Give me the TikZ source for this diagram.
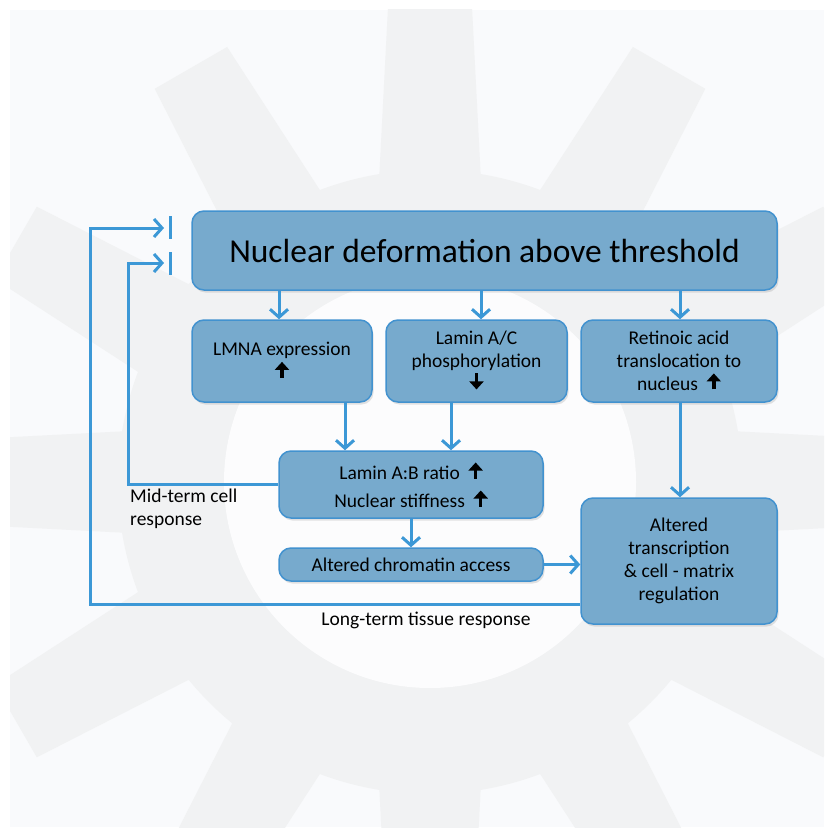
\documentclass[tikz,border=0pt]{standalone}
\usepackage{fontspec}
\setmainfont{Carlito}
\usetikzlibrary{arrows.meta,shadows}
\definecolor{boxfill}{HTML}{77AACD}
\definecolor{boxline}{HTML}{4292CF}
\definecolor{linkc}{HTML}{3C98D6}
\definecolor{gearc}{HTML}{F1F2F3}
\definecolor{bgc}{HTML}{F9FAFC}
\definecolor{holec}{HTML}{FCFCFD}
\newcommand{\upmark}{\tikz[x=1pt,y=1pt,baseline=-1pt]\draw[line width=3.4pt,-{Triangle[length=8pt,width=14pt]}](0,0)--(0,16);}
\newcommand{\downmark}{\tikz[x=1pt,y=1pt,baseline=-1pt]\draw[line width=3.4pt,-{Triangle[length=8pt,width=14pt]}](0,16)--(0,0);}
\begin{document}
\begin{tikzpicture}[x=1pt,y=-1pt,
  box/.style={draw=boxline,line width=1.5pt,fill=boxfill,rounded corners=12pt,align=center,inner sep=0pt,
    font=\fontsize{19.5}{23}\selectfont,drop shadow={opacity=0.22,shadow xshift=1.5pt,shadow yshift=-2.5pt}},
  link/.style={draw=linkc,line width=3pt,-{Straight Barb[length=8pt,width=18pt]}},
  plain/.style={draw=linkc,line width=3pt},
  lbl/.style={font=\fontsize{19.5}{23}\selectfont,inner sep=0pt}]
\useasboundingbox (0,0) rectangle (834,837);
\fill[white] (0,0) rectangle (834,837);
% background gear
\begin{scope}
\clip (10,10) rectangle (824,827);
\fill[bgc] (10,10) rectangle (824,827);
\begin{scope}[shift={(430,482)}]
\fill[gearc] (0,0) circle (312);
\foreach \a in {0,30,...,330}
  \fill[gearc] (\a-9.5:308) -- (\a-5:480) -- (\a+5:480) -- (\a+9.5:308) -- cycle;
\fill[holec] (0,0) circle (206);
\end{scope}
\end{scope}
% boxes
\node[box,minimum width=585pt,minimum height=79pt,font=\fontsize{33.5}{40}\selectfont] (top) at (484.5,250.5) {Nuclear deformation above threshold};
\node[box,minimum width=180pt,minimum height=82pt] (lmna) at (282,361) {LMNA expression\\\upmark};
\node[box,minimum width=181pt,minimum height=82pt] (lac) at (476.5,361) {Lamin A/C\\phosphorylation\\\downmark};
\node[box,minimum width=196pt,minimum height=82pt] (ret) at (679,361) {Retinoic acid\\translocation to\\nucleus \ \upmark};
\node[box,minimum width=264pt,minimum height=67pt] (ab) at (411,484.5) {Lamin A:B ratio \ \upmark\\[5pt]Nuclear stiffness \ \upmark};
\node[box,minimum width=264pt,minimum height=33pt] (chr) at (411,564.5) {Altered chromatin access};
\node[box,minimum width=196pt,minimum height=126pt] (tra) at (679,561) {Altered\\transcription\\\& cell - matrix\\regulation};
% labels
\node[lbl,anchor=north west,align=left] (mid) at (130,489) {Mid-term cell\\response};
\node[lbl] (long) at (426,620) {Long-term tissue response};
% connectors
\draw[link] (top.south -| 279,0) -- (lmna.north -| 279,0);
\draw[link] (top.south -| 481,0) -- (lac.north -| 481,0);
\draw[link] (top.south -| 680,0) -- (ret.north -| 680,0);
\draw[link] (lmna.south -| 345,0) -- (ab.north -| 345,0);
\draw[link] (lac.south -| 451,0) -- (ab.north -| 451,0);
\draw[link] (ret.south -| 680,0) -- (tra.north -| 680,0);
\draw[link] (ab.south) -- (chr.north);
\draw[link] (chr.east) -- (tra.west |- chr.east);
% feedback loops
\coordinate (midend) at (164,263);
\coordinate (longend) at (164,228);
\draw[link] (ab.west) -- (128,484.5) -- (128,263) -- (midend);
\draw[link] (tra.west |- 0,604) -- (90,604) -- (90,228) -- (longend);
\draw[plain] (170,252) -- (170,275);
\draw[plain] (170,216) -- (170,239);
\end{tikzpicture}
\end{document}
